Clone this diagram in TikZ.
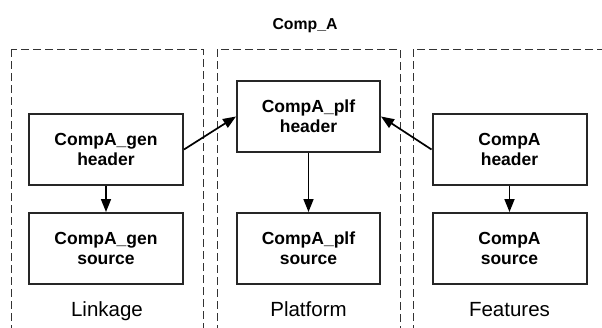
\documentclass[tikz,border=0pt]{standalone}
\usepackage{fontspec}
\setmainfont{Liberation Sans}
\usetikzlibrary{arrows.meta}

\tikzset{
  unit/.style={draw=black!85, line width=2pt, fill=white, align=center,
    font=\bfseries\fontsize{17.5}{20}\selectfont, inner sep=0pt,
    minimum height=71pt},
  wideunit/.style={unit, minimum width=154pt},
  narrowunit/.style={unit, minimum width=143pt},
  panel/.style={draw=black!80, line width=0.9pt, dash pattern=on 8pt off 4pt},
  flow/.style={draw=black, line width=1.7pt, -{Triangle[length=13pt, width=10pt]}},
  caption/.style={font=\fontsize{20.5}{24}\selectfont, anchor=base, inner sep=0pt},
  heading/.style={font=\bfseries\fontsize{15.8}{18}\selectfont, anchor=base, inner sep=0pt}
}

\begin{document}
\begin{tikzpicture}[x=1pt, y=-1pt]
  \useasboundingbox (0,0) rectangle (602,327);

  % group frames, open past the lower and right edges
  \begin{scope}
    \clip (0,0) rectangle (602,327);
    \draw[panel] (11,49) rectangle (203,340);
    \draw[panel] (217,49) rectangle (400,340);
    \draw[panel] (413,49) rectangle (620,340);
  \end{scope}

  \node[heading] (title) at (305,29) {Comp\_A};

  % units
  \node[wideunit]   (genh) at (106,149.5)   {CompA\_gen\\header};
  \node[wideunit]   (gens) at (106,248.5)   {CompA\_gen\\source};
  \node[narrowunit] (plfh) at (308.5,116.5) {CompA\_plf\\header};
  \node[narrowunit] (plfs) at (308.5,248.5) {CompA\_plf\\source};
  \node[wideunit]   (feah) at (509.5,149.5) {CompA\\header};
  \node[wideunit]   (feas) at (509.5,248.5) {CompA\\source};

  % dependencies
  \draw[flow] (genh) -- (gens);
  \draw[flow] (plfh) -- (plfs);
  \draw[flow] (feah) -- (feas);
  \draw[flow] (genh.east) -- (plfh.west);
  \draw[flow] (feah.west) -- (plfh.east);

  % group captions
  \node[caption] (lnk) at (107,316)   {Linkage};
  \node[caption] (plt) at (308.5,316) {Platform};
  \node[caption] (ftr) at (509.5,316) {Features};
\end{tikzpicture}
\end{document}
